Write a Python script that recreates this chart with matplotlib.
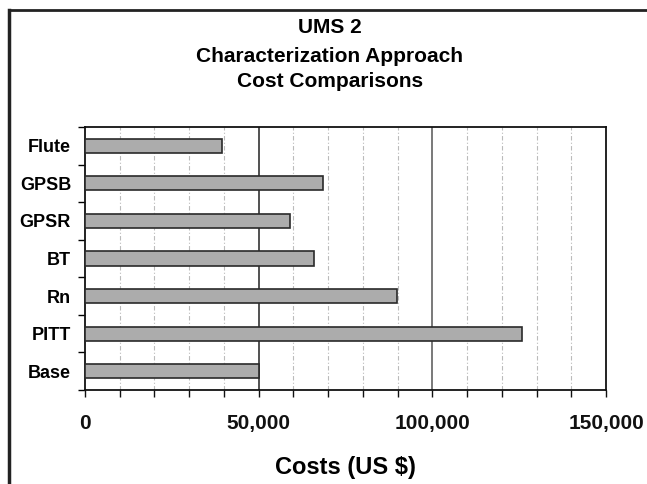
import matplotlib
matplotlib.use("Agg")
import matplotlib.pyplot as plt
from matplotlib.lines import Line2D
from matplotlib.ticker import FuncFormatter, MultipleLocator, FixedLocator
import numpy as np

categories = ["Base", "PITT", "Rn", "BT", "GPSR", "GPSB", "Flute"]
costs = [50000, 125700, 89700, 66000, 59000, 68600, 39500]
x_ticks = [0, 50000, 100000, 150000]
title_lines = ["UMS 2", "Characterization Approach", "Cost Comparisons"]
xlabel = "Costs (US $)"

plt.rcParams['font.family'] = ['Liberation Sans', 'DejaVu Sans']

fig = plt.figure(figsize=(6.47, 4.84), dpi=100)
W, H = 647, 484
ax = fig.add_axes([85 / W, 1 - 390 / H, (606 - 85) / W, (390 - 127) / H])

y = np.arange(len(categories))
ax.barh(y, costs, height=0.38, color="#acacac", edgecolor="#2a2a2a", linewidth=1.2, zorder=3)

ax.set_xlim(0, 150000)
ax.set_ylim(-0.5, len(categories) - 0.5)

# gridlines
for v in range(10000, 150000, 10000):
    if v in (50000, 100000):
        ax.axvline(v, color="#222222" if v == 50000 else "#555555", lw=1.1, zorder=1)
    else:
        ax.axvline(v, color="#bbbbbb", lw=0.8, ls=(0, (4, 2, 1, 2)), zorder=1)

ax.xaxis.set_major_locator(FixedLocator(x_ticks))
ax.xaxis.set_minor_locator(MultipleLocator(10000))
ax.xaxis.set_major_formatter(FuncFormatter(lambda v, p: f"{int(v):,}"))
ax.tick_params(axis="x", which="both", direction="out", length=5, width=1, pad=12,
               labelsize=15, colors="#111111")
for lab in ax.get_xticklabels():
    lab.set_fontweight("bold")

ax.set_yticks(y)
ax.set_yticklabels(categories, fontsize=13, fontweight="bold")
ax.yaxis.set_minor_locator(FixedLocator(np.arange(-0.5, len(categories), 1.0)))
ax.tick_params(axis="y", which="major", length=0, pad=10)
ax.tick_params(axis="y", which="minor", direction="out", length=5, width=1)

for s in ax.spines.values():
    s.set_linewidth(1.3)
    s.set_color("#111111")

ax.set_xlabel(xlabel, fontsize=17, fontweight="bold", labelpad=17)

baselines = [33, 62, 87]
for t, yy in zip(title_lines, baselines):
    fig.text(330 / W, 1 - yy / H, t, ha="center", va="baseline", fontsize=15, fontweight="bold")

# outer frame (cropped)
fig.add_artist(Line2D([9 / W, 9 / W], [0, 1 - 10 / H], transform=fig.transFigure, color="#222222", lw=2.5))
fig.add_artist(Line2D([9 / W, 1], [1 - 10 / H, 1 - 10 / H], transform=fig.transFigure, color="#222222", lw=2.0))

fig.savefig("out.png", dpi=100)
